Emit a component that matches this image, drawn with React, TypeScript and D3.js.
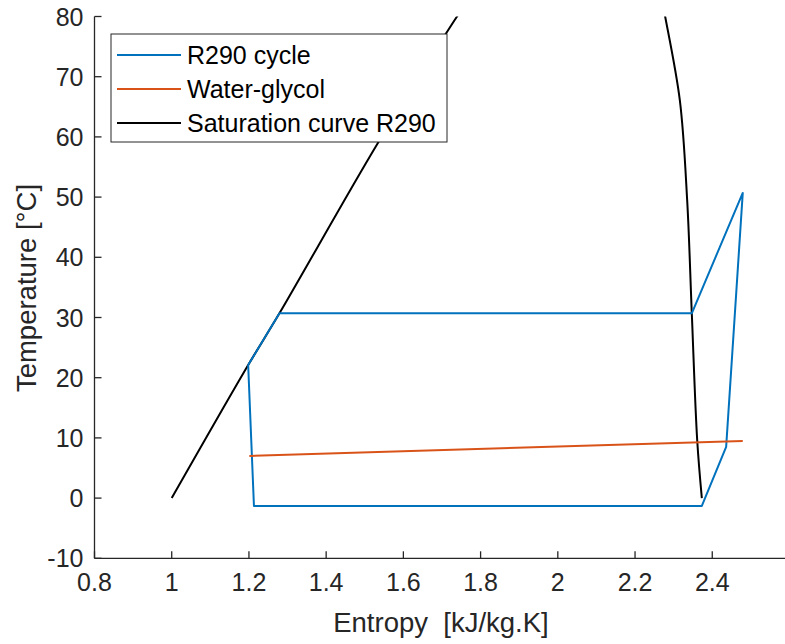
import React from "react";
import * as d3 from "d3";

const xTicks = [0.8, 1, 1.2, 1.4, 1.6, 1.8, 2, 2.2, 2.4];
const yTicks = [-10, 0, 10, 20, 30, 40, 50, 60, 70, 80];

// R290 cycle points (entropy, temperature)
const cycleS = [1.198, 1.213, 2.373, 2.436, 2.479, 2.347, 1.279, 1.198];
const cycleT = [22.1, -1.3, -1.3, 8.5, 50.7, 30.7, 30.7, 22.1];

// Water-glycol line
const glycolS = [1.201, 2.479];
const glycolT = [7.0, 9.5];

// Saturation curve: liquid side and vapor side
const satLiqS = [1.0, 1.198, 1.279, 1.534, 1.739, 1.75];
const satLiqT = [0, 22.1, 30.7, 59, 80, 81];
const satVapS = [2.373, 2.361, 2.347, 2.335, 2.316, 2.278, 2.272];
const satVapT = [0, 9.6, 30.7, 49.5, 66.1, 80, 82];

const legendLabels = ["R290 cycle", "Water-glycol", "Saturation curve R290"];
const colors = ["#0072BD", "#D95319", "#000000"];

export default function App() {
  const W = 785, H = 644;
  const left = 94.5, top = 16.5, bottom = 558.3;
  const pxPerUnit = 386.1;
  const x = d3.scaleLinear().domain([0.8, 2.4]).range([left, left + 1.6 * pxPerUnit]);
  const y = d3.scaleLinear().domain([-10, 80]).range([bottom, top]);
  const right = W + 2;
  const line = d3.line<[number, number]>().x(d => x(d[0])).y(d => y(d[1]));
  const smooth = d3.line<[number, number]>().x(d => x(d[0])).y(d => y(d[1])).curve(d3.curveCatmullRom.alpha(0.5));
  const zip = (a: number[], b: number[]) => a.map((v, i) => [v, b[i]] as [number, number]);
  const font = "'Liberation Sans', Arial, Helvetica, sans-serif";
  const axisColor = "#262626";
  const fs = 25;
  const lfs = 27.5;

  const legX = 111, legY = 34, legW = 336, legH = 108;
  return (
    <svg width={W} height={H} style={{ position: "absolute", left: 0, top: 0, background: "#fff" }}
      fontFamily={font}>
      <defs>
        <clipPath id="plotclip">
          <rect x={left} y={top} width={right - left} height={bottom - top} />
        </clipPath>
      </defs>
      <rect x={0} y={0} width={W} height={H} fill="#fff" />
      <g clipPath="url(#plotclip)" fill="none" strokeLinejoin="round">
        <path d={smooth(zip(satLiqS, satLiqT)) || ""} stroke={colors[2]} strokeWidth={2} />
        <path d={smooth(zip(satVapS, satVapT)) || ""} stroke={colors[2]} strokeWidth={2} />
        <path d={line(zip(cycleS, cycleT)) || ""} stroke={colors[0]} strokeWidth={2} />
        <path d={line(zip(glycolS, glycolT)) || ""} stroke={colors[1]} strokeWidth={2} />
      </g>
      {/* axes */}
      <line x1={left} y1={bottom} x2={right} y2={bottom} stroke={axisColor} strokeWidth={1.3} />
      <line x1={left} y1={bottom} x2={left} y2={top} stroke={axisColor} strokeWidth={1.3} />
      {xTicks.map(t => (
        <g key={"x" + t}>
          <line x1={x(t)} x2={x(t)} y1={bottom} y2={bottom - 7} stroke={axisColor} strokeWidth={1.3} />
          <text x={x(t)} y={bottom + 33} textAnchor="middle" fontSize={fs} fill={axisColor}>{String(t)}</text>
        </g>
      ))}
      {yTicks.map(t => (
        <g key={"y" + t}>
          <line x1={left} x2={left + 7} y1={y(t)} y2={y(t)} stroke={axisColor} strokeWidth={1.3} />
          <text x={left - 11} y={y(t) + 9} textAnchor="end" fontSize={fs} fill={axisColor}>{String(t)}</text>
        </g>
      ))}
      <text x={441} y={632} textAnchor="middle" fontSize={lfs} fill={axisColor} xmlSpace="preserve">Entropy  [kJ/kg.K]</text>
      <text transform={`translate(36, 288) rotate(-90)`} textAnchor="middle" fontSize={lfs} fill={axisColor}>Temperature [°C]</text>
      {/* legend */}
      <rect x={legX} y={legY} width={legW} height={legH} fill="#fff" stroke="#262626" strokeWidth={1} />
      {legendLabels.map((lab, i) => {
        const cy = legY + 21 + i * 34;
        return (
          <g key={lab}>
            <line x1={legX + 6} x2={legX + 70} y1={cy} y2={cy} stroke={colors[i]} strokeWidth={2} />
            <text x={legX + 76} y={cy + 9} fontSize={fs} fill="#000">{lab}</text>
          </g>
        );
      })}
    </svg>
  );
}
